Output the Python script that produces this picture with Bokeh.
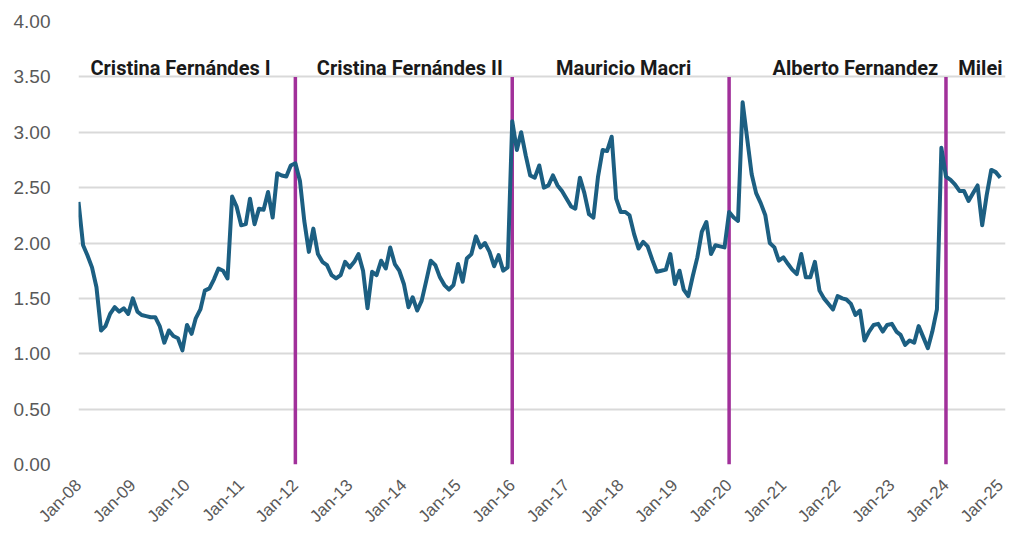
import pandas as pd
from math import pi
from bokeh.plotting import figure
from bokeh.models import (ColumnDataSource, FixedTicker, DatetimeTickFormatter,
                          NumeralTickFormatter, Range1d)
from bokeh.core.properties import value
from bokeh.embed import file_html
from bokeh.resources import INLINE

# ---- data (monthly values, Jan-2008 .. Jan-2025) ----
v2008 = [2.37, 1.98, 1.89, 1.78, 1.60, 1.21, 1.25, 1.36, 1.42, 1.38, 1.41, 1.36]
v2009 = [1.50, 1.38, 1.35, 1.34, 1.33, 1.33, 1.25, 1.10, 1.21, 1.16, 1.14, 1.03]
v2010 = [1.26, 1.18, 1.32, 1.40, 1.57, 1.59, 1.67, 1.77, 1.75, 1.68, 2.42, 2.33]
v2011 = [2.16, 2.17, 2.40, 2.17, 2.31, 2.30, 2.46, 2.23, 2.63, 2.61, 2.60, 2.70]
v2012 = [2.72, 2.56, 2.20, 1.92, 2.13, 1.90, 1.83, 1.80, 1.71, 1.68, 1.71, 1.83]
v2013 = [1.78, 1.83, 1.90, 1.75, 1.41, 1.74, 1.71, 1.84, 1.77, 1.96, 1.81, 1.75]
v2014 = [1.63, 1.42, 1.51, 1.39, 1.48, 1.66, 1.84, 1.80, 1.69, 1.62, 1.58, 1.62]
v2015 = [1.81, 1.65, 1.86, 1.90, 2.06, 1.96, 2.00, 1.92, 1.79, 1.89, 1.75, 1.78]
v2016 = [3.10, 2.84, 3.00, 2.79, 2.61, 2.59, 2.70, 2.50, 2.52, 2.61, 2.52, 2.47]
v2017 = [2.40, 2.33, 2.31, 2.59, 2.45, 2.26, 2.23, 2.60, 2.84, 2.83, 2.96, 2.40]
v2018 = [2.28, 2.28, 2.25, 2.08, 1.95, 2.01, 1.97, 1.85, 1.74, 1.75, 1.76, 1.90]
v2019 = [1.63, 1.75, 1.58, 1.52, 1.70, 1.87, 2.10, 2.19, 1.90, 1.98, 1.97, 1.96]
v2020 = [2.28, 2.23, 2.20, 3.27, 2.95, 2.62, 2.45, 2.36, 2.25, 2.00, 1.96, 1.84]
v2021 = [1.87, 1.81, 1.76, 1.72, 1.90, 1.69, 1.69, 1.83, 1.57, 1.50, 1.45, 1.40]
v2022 = [1.52, 1.50, 1.49, 1.45, 1.35, 1.39, 1.12, 1.20, 1.26, 1.27, 1.20, 1.26]
v2023 = [1.27, 1.20, 1.17, 1.08, 1.12, 1.10, 1.25, 1.15, 1.05, 1.20, 1.40, 2.86]
v2024 = [2.60, 2.57, 2.53, 2.47, 2.47, 2.38, 2.45, 2.52, 2.16, 2.43, 2.66, 2.64]
v2025 = [2.59]

values = (v2008 + v2009 + v2010 + v2011 + v2012 + v2013 + v2014 + v2015 + v2016
          + v2017 + v2018 + v2019 + v2020 + v2021 + v2022 + v2023 + v2024 + v2025)
dates = pd.date_range("2008-01-01", periods=len(values), freq="MS")

# presidential terms (start dates) and labels
term_starts = ["2012-01-01", "2016-01-01", "2020-01-01", "2024-01-01"]
term_top = 3.5
term_labels = ["Cristina Fernándes I", "Cristina Fernándes II", "Mauricio Macri",
               "Alberto Fernandez", "Milei"]
label_dates = ["2009-11-18", "2014-02-10", "2018-01-20", "2022-05-01", "2024-08-20"]
label_y = [3.58] * 5

tick_years = list(range(2008, 2026))
y_ticks = [0, 0.5, 1.0, 1.5, 2.0, 2.5, 3.0, 3.5, 4.0]

# ---- figure ----
x0 = pd.Timestamp("2008-01-01")
x1 = pd.Timestamp("2025-02-05")
p = figure(width=1010, height=541, x_axis_type="datetime",
           x_range=Range1d(x0, x1), y_range=Range1d(0, 4),
           output_backend="svg", toolbar_location=None,
           min_border_left=78, min_border_right=5,
           min_border_top=21, min_border_bottom=77)
p.outline_line_color = None
p.background_fill_color = "white"
p.border_fill_color = "white"

# grid
p.xgrid.grid_line_color = None
p.ygrid.grid_line_color = "#d9d9d9"
p.ygrid.grid_line_width = 2
p.ygrid.ticker = FixedTicker(ticks=y_ticks)

# y axis
p.yaxis.ticker = FixedTicker(ticks=y_ticks)
p.yaxis.formatter = NumeralTickFormatter(format="0.00")
p.yaxis.axis_line_color = None
p.yaxis.major_tick_line_color = None
p.yaxis.minor_tick_line_color = None
p.yaxis.major_label_text_font = "Liberation Sans"
p.yaxis.major_label_text_font_size = "19px"
p.yaxis.major_label_text_color = "#595959"
p.yaxis.major_label_standoff = 22

# x axis
tick_ms = [pd.Timestamp(f"{y}-01-01").value / 1e6 for y in tick_years]
p.xaxis.ticker = FixedTicker(ticks=tick_ms)
fmt = "%b-%y"
p.xaxis.formatter = DatetimeTickFormatter(years=fmt, months=fmt, days=fmt,
                                          hours=fmt, minutes=fmt, seconds=fmt,
                                          milliseconds=fmt, microseconds=fmt,
                                          hourmin=fmt, minsec=fmt)
p.xaxis.major_label_orientation = pi / 4
p.xaxis.axis_line_color = None
p.xaxis.major_tick_line_color = None
p.xaxis.minor_tick_line_color = None
p.xaxis.major_label_text_font = "Liberation Sans"
p.xaxis.major_label_text_font_size = "17px"
p.xaxis.major_label_text_color = "#595959"
p.xaxis.major_label_standoff = 12

# term separators
seg = ColumnDataSource(dict(x=pd.to_datetime(term_starts),
                            y0=[0] * len(term_starts),
                            y1=[term_top] * len(term_starts)))
p.segment(x0="x", y0="y0", x1="x", y1="y1", source=seg,
          line_color="#a1309a", line_width=3.5)

# main series
src = ColumnDataSource(dict(x=dates, y=values))
p.line("x", "y", source=src, line_color="#1c5f82", line_width=4,
       line_join="round")

# term labels
lab = ColumnDataSource(dict(x=pd.to_datetime(label_dates), y=label_y,
                            t=term_labels))
p.text("x", "y", text="t", source=lab, text_font=value("Roboto"),
       text_font_style="bold", text_font_size="20px", text_color="#1a1a1a",
       text_align="center", text_baseline="middle")

open("out.html", "w").write(file_html(p, INLINE))
